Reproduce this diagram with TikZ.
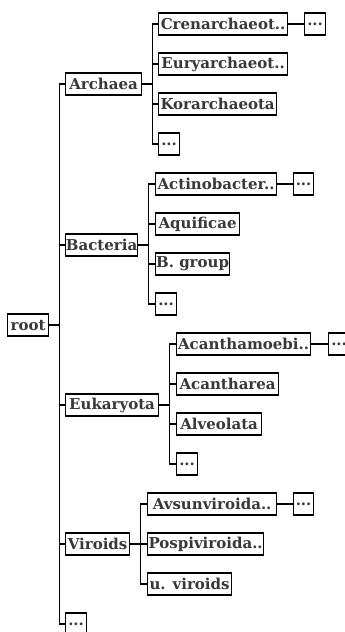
\documentclass[tikz,border=0pt]{standalone}
\usepackage{fontspec}
\setmainfont{DejaVu Serif}
\begin{document}
\begin{tikzpicture}[x=1pt,y=-1pt,
  taxon/.style={draw=black, line width=1.2pt, fill=white, anchor=west,
    minimum height=22pt, inner sep=0pt, text=black!78,
    font=\bfseries\fontsize{15}{16}\selectfont},
  link/.style={line width=1.2pt, black}]
\useasboundingbox (0,0) rectangle (345,632);
% depth 0
\node[taxon, minimum width=41pt] (root) at (7,325) {root};
% depth 1
\node[taxon, minimum width=76pt] (arch) at (65,84) {Archaea};
\node[taxon, minimum width=72pt] (bact) at (65,245) {Bacteria};
\node[taxon, minimum width=93pt] (euk) at (65,405) {Eukaryota};
\node[taxon, minimum width=64pt] (vir) at (65,544) {Viroids};
\node[taxon, minimum width=21pt] (rmore) at (65,624) {...};
% Archaea
\node[taxon, minimum width=129pt] (cren) at (158,24) {Crenarchaeot..};
\node[taxon, minimum width=129pt] (eury) at (158,64) {Euryarchaeot..};
\node[taxon, minimum width=118pt] (kor) at (158,104) {Korarchaeota};
\node[taxon, minimum width=21pt] (amore) at (158,144) {...};
\node[taxon, minimum width=21pt] (crenmore) at (304,24) {...};
% Bacteria
\node[taxon, minimum width=121pt] (acti) at (155,184) {Actinobacter..};
\node[taxon, minimum width=84pt] (aqui) at (155,224) {Aquificae};
\node[taxon, minimum width=74pt] (bgrp) at (155,264) {B. group};
\node[taxon, minimum width=21pt] (bmore) at (155,304) {...};
\node[taxon, minimum width=20pt] (actimore) at (293,184) {...};
% Eukaryota
\node[taxon, minimum width=134pt] (acam) at (176,344) {Acanthamoebi..};
\node[taxon, minimum width=102pt] (acan) at (176,384) {Acantharea};
\node[taxon, minimum width=85pt] (alve) at (176,424) {Alveolata};
\node[taxon, minimum width=21pt] (emore) at (176,464) {...};
\node[taxon, minimum width=21pt] (acammore) at (328,344) {...};
% Viroids
\node[taxon, minimum width=129pt] (avsu) at (147,504) {Avsunviroida..};
\node[taxon, minimum width=116pt] (pospi) at (147,544) {Pospiviroida..};
\node[taxon, minimum width=84pt] (uvir) at (147,584) {u. viroids};
\node[taxon, minimum width=20pt] (avsumore) at (293,504) {...};
% connectors
\foreach \p/\c in {root/arch, root/bact, root/euk, root/vir, root/rmore,
    arch/cren, arch/eury, arch/kor, arch/amore,
    bact/acti, bact/aqui, bact/bgrp, bact/bmore,
    euk/acam, euk/acan, euk/alve, euk/emore,
    vir/avsu, vir/pospi, vir/uvir}
  \draw[link] (\p.east) -- ++(10,0) |- (\c.west);
\foreach \p/\c in {cren/crenmore, acti/actimore, acam/acammore, avsu/avsumore}
  \draw[link] (\p.east) -- (\c.west);
\end{tikzpicture}
\end{document}
